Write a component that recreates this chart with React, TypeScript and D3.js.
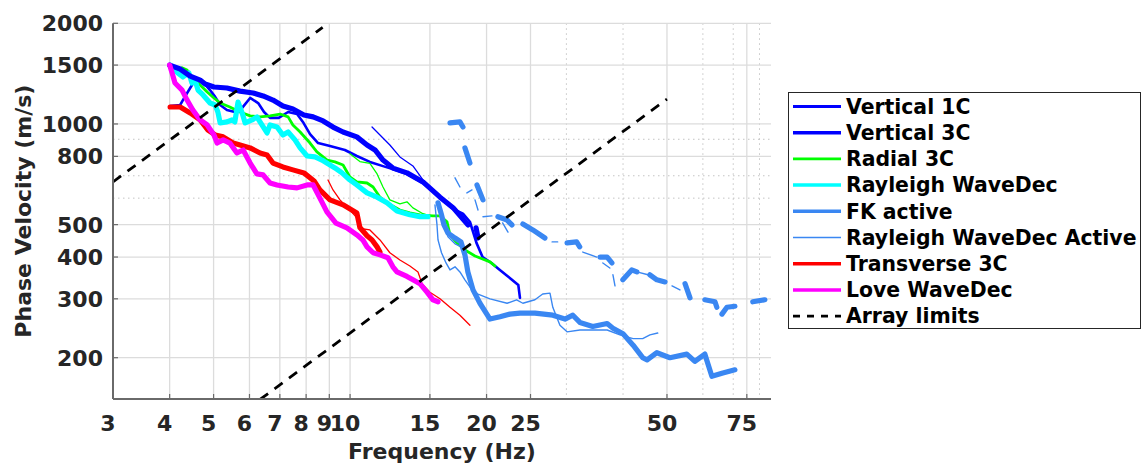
import React from "react";
import * as d3 from "d3";

type P = [number, number] | null;

// ---------- axes ----------
const xTicks = [3, 4, 5, 6, 7, 8, 9, 10, 15, 20, 25, 50, 75];
const xMinorGrid = [30, 40, 60, 70, 80];
const yTicks = [200, 300, 400, 500, 800, 1000, 1500, 2000];
const yMinorGrid = [600, 700, 900];

// ---------- data (frequency Hz, phase velocity m/s) ----------
const vertical1C: P[] = [
  [4.01, 1132], [4.22, 1140], [4.32, 1205], [4.44, 1281], [4.55, 1353], [4.74, 1334], [4.91, 1263],
  [5.04, 1205], [5.17, 1140], [5.35, 1101], [5.57, 1086], [5.78, 1117], [6.02, 1196], [6.27, 1155],
  [6.46, 1086], [6.66, 1043], [6.96, 1043], [7.3, 1086], [7.64, 1071], [7.87, 1014], [8.16, 933],
  [8.5, 877], [9.03, 859], [9.74, 836], [10.35, 802], [11.06, 770], [11.82, 748], [12.56, 729],
  [13.35, 709], [14.48, 666], [15.79, 604], [16.87, 557], [17.74, 539], [18.38, 510], [19.0, 441],
  [19.6, 400], [20.5, 384], [21.4, 366], [22.3, 350], [23.5, 330], [23.7, 302],
];
const vertical1CHigh: P[] = [
  [11.18, 979], [11.64, 927], [12.24, 865], [12.88, 797], [13.76, 749], [14.48, 680], [15.23, 635], [15.79, 604],
];
const vertical3C: P[] = [
  [4.0, 1500], [4.22, 1460], [4.44, 1391], [4.67, 1353], [4.79, 1317], [5.01, 1290], [5.35, 1281],
  [5.72, 1254], [6.11, 1238], [6.43, 1213], [6.76, 1179], [7.11, 1132], [7.48, 1109], [7.91, 1064],
  [8.29, 1050], [8.72, 1021], [9.17, 979], [9.65, 946], [10.35, 915], [10.9, 865], [11.35, 836],
  [11.82, 780], [12.43, 738], [13.35, 714], [14.48, 671], [15.79, 604], [16.87, 562], [17.74, 520],
  [18.2, 499], null, [18.96, 489], [19.15, 456],
];
const radial3C: P[] = [
  [4.26, 1472], [4.37, 1450], [4.5, 1372], [4.67, 1308], [4.84, 1246], [5.01, 1196], [5.17, 1155],
  [5.43, 1124], [5.72, 1086], [6.02, 1057], [6.33, 1050], [6.66, 1057], [7.01, 1071], [7.3, 1050],
  [7.48, 993], [7.76, 946], [8.16, 877], [8.45, 825], [8.9, 780], [9.26, 770], [9.65, 754], [9.99, 694],
  [10.35, 671], [10.9, 666], [11.24, 648], [11.64, 604], [12.06, 581], [12.88, 553], [13.55, 542],
  [14.26, 535], [15.23, 531], [15.79, 531], [16.36, 510], [16.61, 466], [17.21, 441], [17.92, 420],
  [18.86, 403], [20.35, 387], [20.87, 376],
];
const radial3CHigh: P[] = [
  [9.99, 814], [10.51, 772], [11.06, 762], [11.47, 709], [11.82, 648], [12.24, 593], [12.88, 577],
  [13.35, 585], [13.76, 561], [14.48, 539], [15.0, 531],
];
const rayleighWaveDec: P[] = [
  [4.01, 1500], [4.17, 1421], [4.28, 1382], [4.41, 1421], [4.48, 1326], [4.55, 1353], [4.62, 1263],
  [4.74, 1221], [4.91, 1155], [5.04, 1140], [5.11, 1086], [5.17, 1007], [5.35, 1014], [5.49, 1028],
  [5.57, 1014], [5.66, 1163], [5.78, 1079], [5.87, 1007], [6.08, 1028], [6.23, 1050], [6.33, 1014],
  [6.56, 940], [6.66, 993], [6.9, 979], [7.11, 927], [7.3, 946], [7.56, 896], [7.76, 848], [8.04, 802],
  [8.37, 797], [8.67, 780], [8.94, 760], [9.26, 739], [9.6, 714], [9.99, 680], [10.35, 657], [10.9, 622],
  [11.47, 604], [12.06, 581], [12.69, 549], [13.55, 535], [14.26, 528], [14.85, 528],
];
const fkActive: P[] = [
  [15.63, 581], [15.91, 535], [16.11, 499], [16.44, 472], [17.04, 456], [17.56, 444], [17.92, 406],
  [18.19, 361], [18.67, 319], [19.34, 291], [20.35, 261], [21.41, 265], [22.52, 270], [23.7, 272],
  [25.57, 272], [28.0, 268], [29.78, 261], [31.0, 268], [32.13, 255], [34.3, 248], [36.9, 253],
  [38.0, 245], [40.0, 236], [42.1, 218], [44.2, 200], [45.2, 197], [47.5, 207], [50.75, 200],
  [55.3, 205], [57.6, 195], [60.6, 205], [62.8, 176], [66.4, 180], [70.6, 184],
];
const fkActiveHigh: P[] = [
  [16.61, 1007], [17.47, 1014], [17.74, 979], null,
  [17.92, 848], [18.38, 764], null,
  [19.05, 657], [19.64, 593], null,
  [21.19, 528], [22.2, 516], [22.75, 499], null,
  [24.05, 502], [25.3, 482], [26.9, 456], null,
  [30.1, 441], [31.6, 444], [32.1, 429], null,
  [35.6, 400], [36.9, 400], [37.8, 384], null,
  [39.96, 342], [41.8, 366], [42.9, 361], null,
  [45.85, 354], [47.5, 342], [49.5, 337], null,
  [54.8, 333], [56.2, 302], null,
  [60.6, 298], [63.8, 294], [64.4, 283], null,
  [66.1, 270], [67.8, 283], [70.6, 285], null,
  [77.3, 294], [82.2, 298],
];
const rayleighWaveDecActive: P[] = [
  [15.39, 573], [15.55, 499], [15.63, 450], [15.91, 412], [16.28, 384], [16.61, 366], [17.04, 374],
  [17.47, 361], [17.92, 342], [18.57, 319], [19.15, 310], [20.35, 300], [22.2, 291], [23.3, 298],
  [24.05, 291], [25.57, 298], [26.6, 310], [27.6, 312], [28.0, 283], [29.03, 250], [30.1, 239],
  [32.13, 242], [34.7, 242], [36.9, 242], [39.37, 234], [42.1, 228], [44.2, 228], [45.85, 234], [47.7, 237],
];
const rayleighWaveDecActiveHigh: P[] = [
  [17.04, 690], [17.47, 648], null, [18.1, 622], [18.57, 635], null, [18.86, 593], [19.15, 553], null,
  [19.64, 528], [20.55, 531], null, [21.7, 506], [22.3, 475], null, [27.9, 444], [28.7, 444], null,
  [32.6, 414], [35.0, 400], null, [36.1, 384], [37.4, 371], null, [38.0, 354], [38.4, 328], null,
  [42.9, 361], [45.4, 354], null, [51.3, 328], [53.4, 319], null,
  [15.79, 564], [16.03, 502], [16.44, 460], [17.04, 438], [17.6, 429],
];
const transverse3C: P[] = [
  [4.01, 1124], [4.22, 1124], [4.44, 1079], [4.67, 1028], [4.86, 959], [5.04, 927], [5.25, 915],
  [5.52, 877], [5.72, 865], [6.02, 848], [6.33, 819], [6.56, 808], [6.76, 764], [7.11, 744], [7.48, 729],
  [7.91, 714], [8.33, 675], [8.58, 635], [9.03, 593], [9.65, 573], [10.35, 542], [10.51, 490],
  [10.9, 463], [11.18, 450], [11.47, 429], [11.64, 414],
];
const transverse3CHigh: P[] = [
  [8.94, 680], [9.17, 635], [9.5, 593], [9.99, 553], [10.4, 520], [10.62, 486], [11.06, 482],
  [11.64, 450], [12.24, 412], [12.88, 392], [13.55, 376], [14.12, 361], [14.41, 333], [15.0, 314],
  [15.79, 300], [16.61, 283], [17.47, 268], [18.38, 250],
];
const loveWaveDec: P[] = [
  [4.0, 1500], [4.05, 1421], [4.11, 1326], [4.26, 1263], [4.37, 1179], [4.5, 1101], [4.67, 1028],
  [4.84, 993], [5.01, 927], [5.09, 877], [5.25, 896], [5.43, 877], [5.63, 819], [5.81, 836], [6.02, 764],
  [6.23, 709], [6.43, 704], [6.66, 666], [6.9, 657], [7.3, 648], [7.64, 644], [8.04, 657], [8.29, 657],
  [8.58, 600], [8.89, 546], [9.31, 505], [9.84, 489], [10.35, 466], [10.67, 450], [10.9, 429],
  [11.24, 412], [11.64, 406], [12.12, 398], [12.43, 374], [12.69, 361], [13.35, 350], [13.76, 342],
  [14.26, 333], [14.78, 314], [15.23, 298], [15.63, 294],
];
const arrayLimitLow: P[] = [[3, 671], [8.7, 1945]];
const arrayLimitHigh: P[] = [[6.33, 150], [50, 1187]];

const BLUE = "#0000ff";
const GREEN = "#00ff00";
const CYAN = "#00ffff";
const FK = "#3a87f2";
const RED = "#ff0000";
const MAGENTA = "#ff00ff";

const series = [
  { data: vertical1C, color: BLUE, width: 2.6 },
  { data: vertical1CHigh, color: BLUE, width: 1.3 },
  { data: radial3C, color: GREEN, width: 2.8 },
  { data: radial3CHigh, color: GREEN, width: 1.3 },
  { data: rayleighWaveDec, color: CYAN, width: 5.2 },
  { data: vertical3C, color: BLUE, width: 5.2 },
  { data: fkActive, color: FK, width: 5.2 },
  { data: fkActiveHigh, color: FK, width: 5.2 },
  { data: rayleighWaveDecActive, color: FK, width: 1.4 },
  { data: rayleighWaveDecActiveHigh, color: FK, width: 1.4 },
  { data: transverse3CHigh, color: RED, width: 1.3 },
  { data: transverse3C, color: RED, width: 5.2 },
  { data: loveWaveDec, color: MAGENTA, width: 5.2 },
];

const legendItems = [
  { label: "Vertical 1C", color: BLUE, width: 2.8, dash: "" },
  { label: "Vertical 3C", color: BLUE, width: 3.5, dash: "" },
  { label: "Radial 3C", color: GREEN, width: 2.8, dash: "" },
  { label: "Rayleigh WaveDec", color: CYAN, width: 3.5, dash: "" },
  { label: "FK active", color: FK, width: 3.5, dash: "" },
  { label: "Rayleigh WaveDec Active", color: FK, width: 1.4, dash: "" },
  { label: "Transverse 3C", color: RED, width: 3.5, dash: "" },
  { label: "Love WaveDec", color: MAGENTA, width: 3.5, dash: "" },
  { label: "Array limits", color: "#000", width: 2.8, dash: "7,7" },
];

const FONT = "'DejaVu Sans', sans-serif";
const L = 113, R = 771, T = 23.3, B = 399;

export default function App() {
  const x = d3.scaleLog().domain([3, 84.8]).range([L, R]);
  const y = d3.scaleLog().domain([150.5, 2000]).range([B, T]);
  const line = d3
    .line<P>()
    .defined((d) => d !== null)
    .x((d) => x((d as [number, number])[0]))
    .y((d) => y((d as [number, number])[1]));

  const gridColor = "#dcdcdc";
  const axisColor = "#6a6a6a";
  const textColor = "#262626";

  return (
    <svg
      width={1144}
      height={464}
      style={{ position: "absolute", left: 0, top: 0, background: "#fff" }}
      fontFamily={FONT}
    >
      <defs>
        <clipPath id="plotclip">
          <rect x={L} y={T} width={R - L} height={B - T} />
        </clipPath>
      </defs>
      <rect x={0} y={0} width={1144} height={464} fill="#fff" />

      {/* grids */}
      {xMinorGrid.map((v) => (
        <line key={"xm" + v} x1={x(v)} x2={x(v)} y1={T} y2={B} stroke="#c4c4c4" strokeWidth={1} strokeDasharray="1.5,3.5" />
      ))}
      {yMinorGrid.map((v) => (
        <line key={"ym" + v} x1={L} x2={R} y1={y(v)} y2={y(v)} stroke="#c4c4c4" strokeWidth={1} strokeDasharray="1.5,3.5" />
      ))}
      {xTicks.filter((v) => v !== 3).map((v) => (
        <line key={"xg" + v} x1={x(v)} x2={x(v)} y1={T} y2={B} stroke={gridColor} strokeWidth={1.3} />
      ))}
      {yTicks.map((v) => (
        <line key={"yg" + v} x1={L} x2={R} y1={y(v)} y2={y(v)} stroke={gridColor} strokeWidth={1.3} />
      ))}

      {/* data */}
      <g clipPath="url(#plotclip)" fill="none" strokeLinejoin="round" strokeLinecap="round">
        {series.map((s, i) => (
          <path key={i} d={line(s.data) || ""} stroke={s.color} strokeWidth={s.width} />
        ))}
        {[arrayLimitLow, arrayLimitHigh].map((d, i) => (
          <path key={"al" + i} d={line(d) || ""} stroke="#000" strokeWidth={2.8} strokeDasharray="10,8" strokeLinecap="butt" />
        ))}
      </g>

      {/* axes */}
      <line x1={L} x2={L} y1={T} y2={B} stroke={axisColor} strokeWidth={2} />
      <line x1={L} x2={R} y1={B} y2={B} stroke={axisColor} strokeWidth={2} />
      {yTicks.map((v) => (
        <g key={"yt" + v}>
          <line x1={L} x2={L + 5} y1={y(v)} y2={y(v)} stroke={axisColor} strokeWidth={1.2} />
          <text x={103} y={y(v)} dy="0.36em" textAnchor="end" fontSize={22} fontWeight="bold" fill={textColor}>
            {v}
          </text>
        </g>
      ))}
      {xTicks.map((v) => (
        <g key={"xt" + v}>
          <line x1={x(v)} x2={x(v)} y1={B} y2={B - 5} stroke={axisColor} strokeWidth={1.2} />
          <text x={x(v) - 5} y={431} textAnchor="middle" fontSize={22} fontWeight="bold" fill={textColor}>
            {v}
          </text>
        </g>
      ))}
      <text x={(L + R) / 2} y={459} textAnchor="middle" fontSize={22} fontWeight="bold" fill={textColor}>
        Frequency (Hz)
      </text>
      <text
        transform={`translate(31,${(T + B) / 2}) rotate(-90)`}
        textAnchor="middle"
        fontSize={22}
        fontWeight="bold"
        fill={textColor}
      >
        Phase Velocity (m/s)
      </text>

      {/* legend */}
      <rect x={788.5} y={92.5} width={352} height={236} fill="#fff" stroke="#262626" strokeWidth={1} />
      {legendItems.map((it, i) => {
        const cy = 106.5 + i * 26.2;
        return (
          <g key={it.label}>
            <line x1={793} x2={841} y1={cy} y2={cy} stroke={it.color} strokeWidth={it.width} strokeDasharray={it.dash || undefined} />
            <text x={846} y={cy} dy="0.36em" fontSize={20.4} fontWeight="bold" fill="#000">
              {it.label}
            </text>
          </g>
        );
      })}
    </svg>
  );
}
